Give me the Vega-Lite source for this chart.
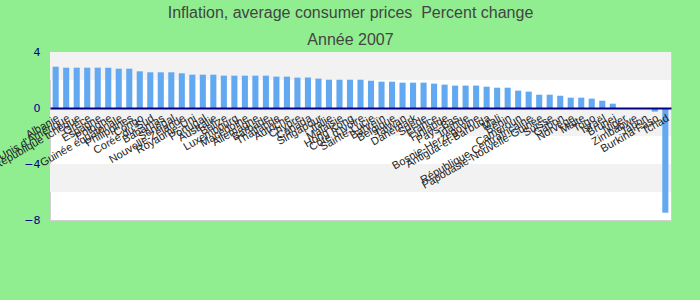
{
  "$schema": "https://vega.github.io/schema/vega-lite/v6.json",
  "width": 621,
  "height": 168,
  "autosize": {"type": "none"},
  "padding": {"left": 50, "top": 52, "right": 29, "bottom": 80},
  "background": "#90EE90",
  "title": {
    "text": "Inflation, average consumer prices\u00a0 Percent change",
    "subtitle": "Année 2007",
    "anchor": "middle",
    "dx": -10,
    "offset": -2,
    "font": "Liberation Sans",
    "fontSize": 16,
    "fontWeight": "normal",
    "color": "#444444",
    "subtitleFont": "Liberation Sans",
    "subtitleFontSize": 16,
    "subtitleColor": "#444444",
    "subtitlePadding": 11
  },
  "config": {
    "view": {"stroke": "#d0d0d0", "fill": "white"}
  },
  "layer": [
    {
      "data": {"values": [
        {"lo": 2, "hi": 4},
        {"lo": -2, "hi": 0},
        {"lo": -6, "hi": -4}
      ]},
      "mark": {"type": "rect", "color": "#f2f2f2"},
      "encoding": {
        "y": {"field": "hi", "type": "quantitative", "scale": {"domain": [-8, 4], "nice": false, "zero": false},
          "axis": {"title": null, "values": [-8, -6, -4, -2, 0, 2, 4], "grid": false, "ticks": false, "domain": false,
            "labelColor": "#00008B", "labelFont": "DejaVu Sans", "labelFontSize": 11, "labelPadding": 10}},
        "y2": {"field": "lo"}
      }
    },
    {
      "data": {"values": [
        {"pays": "Albanie", "v": 2.95},
        {"pays": "États-Unis d'Amérique", "v": 2.88},
        {"pays": "République tchèque", "v": 2.88},
        {"pays": "Grèce", "v": 2.88},
        {"pays": "Espagne", "v": 2.88},
        {"pays": "Pologne", "v": 2.88},
        {"pays": "Guinée équatoriale", "v": 2.81},
        {"pays": "Philippines", "v": 2.81},
        {"pays": "Congo", "v": 2.62},
        {"pays": "Corée du Sud", "v": 2.55},
        {"pays": "Bahamas", "v": 2.55},
        {"pays": "Sénégal", "v": 2.55},
        {"pays": "Nouvelle-Zélande", "v": 2.48},
        {"pays": "Royaume-Uni", "v": 2.38},
        {"pays": "Portugal", "v": 2.38},
        {"pays": "Australie", "v": 2.38},
        {"pays": "Belize", "v": 2.31},
        {"pays": "Luxembourg", "v": 2.31},
        {"pays": "Macédoine", "v": 2.31},
        {"pays": "Allemagne", "v": 2.31},
        {"pays": "Barbade", "v": 2.31},
        {"pays": "Thaïlande", "v": 2.24},
        {"pays": "Autriche", "v": 2.24},
        {"pays": "Chypre", "v": 2.17},
        {"pays": "Canada", "v": 2.17},
        {"pays": "Singapour", "v": 2.10},
        {"pays": "Italie", "v": 2.02},
        {"pays": "Malaisie", "v": 2.02},
        {"pays": "Hong Kong", "v": 2.02},
        {"pays": "Côte d'Ivoire", "v": 2.02},
        {"pays": "Sainte-Lucie", "v": 1.95},
        {"pays": "Bahreïn", "v": 1.88},
        {"pays": "Belgique", "v": 1.88},
        {"pays": "Taïwan", "v": 1.81},
        {"pays": "Danemark", "v": 1.81},
        {"pays": "Suède", "v": 1.81},
        {"pays": "France", "v": 1.74},
        {"pays": "Finlande", "v": 1.67},
        {"pays": "Pays-Bas", "v": 1.60},
        {"pays": "Irlande", "v": 1.60},
        {"pays": "Bosnie-Herzégovine", "v": 1.60},
        {"pays": "Antigua-et-Barbuda", "v": 1.52},
        {"pays": "Mali", "v": 1.45},
        {"pays": "Bénin", "v": 1.45},
        {"pays": "Cameroun", "v": 1.24},
        {"pays": "République Centrafricaine", "v": 1.17},
        {"pays": "Papouasie-Nouvelle-Guinée", "v": 0.95},
        {"pays": "Suisse", "v": 0.95},
        {"pays": "Gabon", "v": 0.88},
        {"pays": "Norvège", "v": 0.74},
        {"pays": "Malte", "v": 0.74},
        {"pays": "Togo", "v": 0.67},
        {"pays": "Israël", "v": 0.52},
        {"pays": "Brunei", "v": 0.31},
        {"pays": "Niger", "v": 0.0},
        {"pays": "Zimbabwe", "v": 0.0},
        {"pays": "Japon", "v": 0.0},
        {"pays": "Burkina Faso", "v": -0.26},
        {"pays": "Tchad", "v": -7.48}
      ]},
      "mark": {"type": "bar", "color": "#63A9F1"},
      "encoding": {
        "x": {"field": "pays", "type": "nominal", "sort": null,
          "scale": {"paddingInner": 0.42, "paddingOuter": 0.25},
          "axis": {"title": null, "offset": -112, "ticks": false, "labelAngle": -30, "labelOverlap": false,
            "labelFont": "Liberation Sans", "labelFontSize": 11, "labelColor": "#222222", "labelPadding": 4,
            "labelLimit": 300,
            "domainColor": "#000080", "domainWidth": 2, "zindex": 1}},
        "y": {"field": "v", "type": "quantitative"}
      }
    }
  ]
}
